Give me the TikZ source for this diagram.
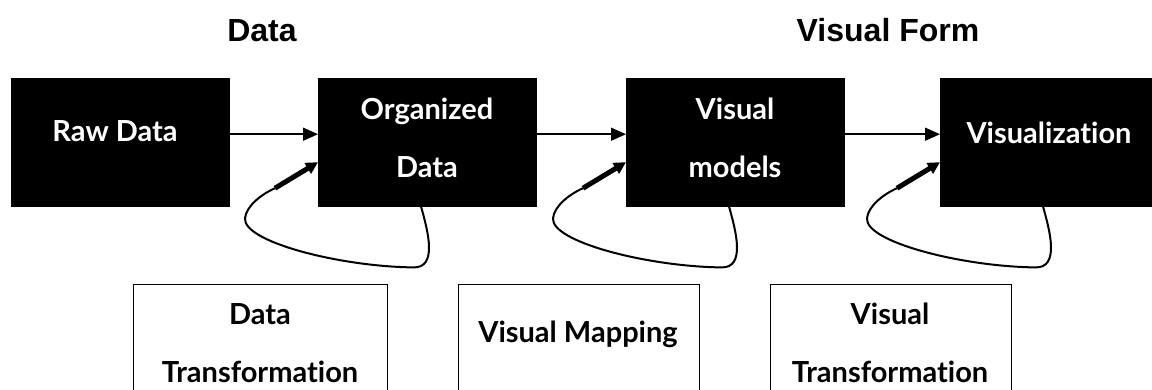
\documentclass[tikz,border=0pt]{standalone}
\usepackage{fontspec}
\newfontfamily\ttlfont{Liberation Sans}
\newfontfamily\boxfont{Lato}[Ligatures={NoCommon,NoRare,NoContextual}]
\usetikzlibrary{arrows.meta,calc}
\begin{document}
\begin{tikzpicture}[x=1pt,y=-1pt,
  blk/.style={draw=black, fill=black, minimum width=218pt, minimum height=128pt, inner sep=0pt, anchor=north west},
  wbox/.style={draw=black, line width=1.3pt, fill=white, minimum width=241pt, minimum height=140pt, inner sep=0pt, anchor=north west},
  wtxt/.style={text=white, font=\boxfont\bfseries\fontsize{29}{29}\selectfont, inner sep=0pt, anchor=base},
  btxt/.style={text=black, font=\boxfont\bfseries\fontsize{29}{29}\selectfont, inner sep=0pt, anchor=base},
  ttl/.style={text=black, font=\ttlfont\bfseries\fontsize{32}{32}\selectfont, inner sep=0pt, anchor=base},
  flow/.style={line width=1.4pt, -{Triangle[length=15pt,width=13pt]}},
  loopline/.style={line width=2pt},
  thickarrow/.style={line width=5pt, -{Triangle[length=12pt,width=12pt]}}
]
\useasboundingbox (0,0) rectangle (1152,390);
% titles
\node[ttl] (t1) at (262,42) {Data};
\node[ttl] (t2) at (888,42) {Visual Form};
% black boxes
\node[blk] (raw) at (11,78) {};
\node[blk] (org) at (318,78) {};
\node[blk] (vm) at (626,78) {};
\node[blk, minimum width=220pt] (vis) at (940,78) {};
\node[wtxt] (rawt) at (115,142) {Raw Data};
\node[wtxt] (orgt1) at (427,120) {Organized};
\node[wtxt] (orgt2) at (427,178) {Data};
\node[wtxt] (vmt1) at (735,120) {Visual};
\node[wtxt] (vmt2) at (735,178) {models};
\node[wtxt] (vist) at (1049,144) {Visualization};
% flow arrows
\draw[flow] ($(raw.east)+(0,-8)$) -- ($(org.west)+(0,-8)$);
\draw[flow] ($(org.east)+(0,-8)$) -- ($(vm.west)+(0,-8)$);
\draw[flow] ($(vm.east)+(0,-8)$) -- ($(vis.west)+(0,-8)$);
% loops
\foreach \b in {org,vm,vis}{
  \coordinate (\b-a) at ($(\b.south west)+(103,0)$);
  \coordinate (\b-c) at ($(\b.west)+(-43,46)$);
  \draw[loopline] (\b-a) .. controls ($(\b-a)+(7,25)$) and ($(\b-a)+(17,62)$) .. ($(\b-a)+(-8,61)$)
    .. controls ($(\b-a)+(-83,60)$) and ($(\b-a)+(-178,35)$) .. ($(\b-a)+(-176,12)$)
    .. controls ($(\b-a)+(-175,0)$) and ($(\b-a)+(-160,-12)$) .. (\b-c);
  \draw[thickarrow] (\b-c) -- ($(\b.west)+(0,20)$);
}
% white boxes
\node[wbox, minimum width=254pt] (dt) at (133,284) {};
\node[wbox] (vmap) at (458,284) {};
\node[wbox] (vt) at (770,284) {};
\node[btxt] (dtt1) at (260,324) {Data};
\node[btxt] (dtt2) at (260,382) {Transformation};
\node[btxt] (vmapt) at (578,342) {Visual Mapping};
\node[btxt] (vtt1) at (890,324) {Visual};
\node[btxt] (vtt2) at (890,382) {Transformation};
\end{tikzpicture}
\end{document}
